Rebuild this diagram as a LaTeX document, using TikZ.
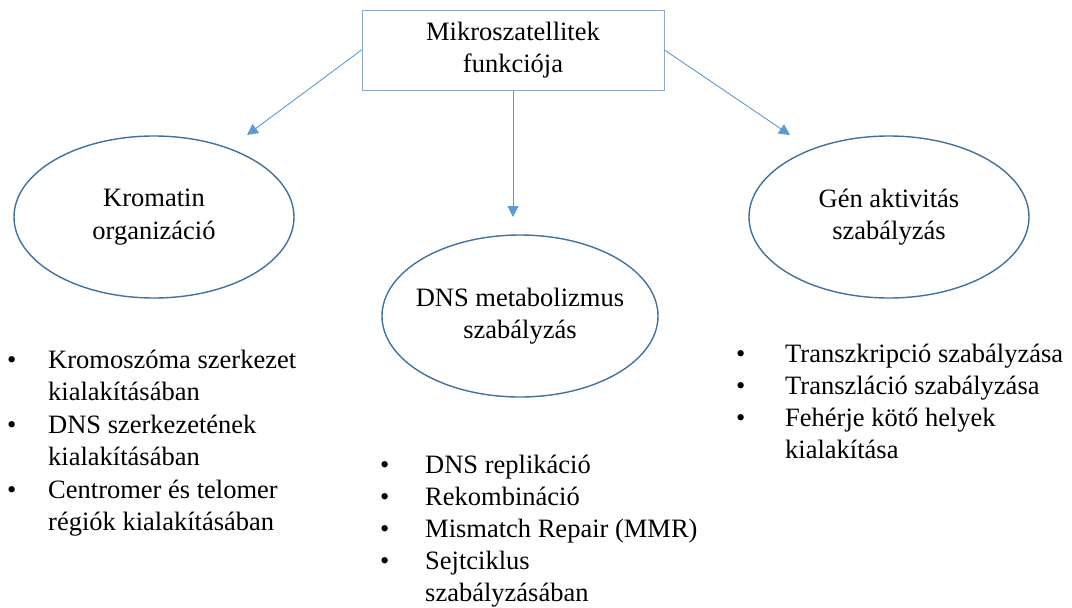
\documentclass[tikz,border=0pt]{standalone}
\usepackage{fontspec}
\setmainfont{Liberation Serif}
\usetikzlibrary{arrows.meta,shapes.geometric}
\definecolor{boxc}{RGB}{140,168,205}
\definecolor{ellc}{RGB}{65,113,156}
\definecolor{arrc}{RGB}{91,155,213}
\newcommand{\bfont}{\fontsize{26.5}{32.5}\selectfont}
\newcommand{\bul}{\textbullet}
\tikzset{
  txt/.style={font=\bfont, inner sep=0pt, align=center},
  topbox/.style={draw=boxc, line width=1pt, minimum width=302pt, minimum height=80pt, inner sep=0pt, align=center, font=\bfont},
  ell/.style={draw=ellc, line width=1.4pt, ellipse, inner sep=0pt, minimum width=280pt, minimum height=162pt},
  arr/.style={draw=arrc, line width=0.9pt, -{Triangle[length=11pt,width=11pt]}},
  lst/.style={anchor=base west, inner sep=0pt, align=left}
}
\begin{document}
\begin{tikzpicture}[x=1pt,y=-1pt]
\useasboundingbox (0,0) rectangle (1072,608);
\node[topbox] (top) at (513,50) {Mikroszatellitek\\funkciója};

\node[ell] (e1) at (154,217) {};
\node[ell, minimum width=276pt] (e2) at (520,316) {};
\node[ell] (e3) at (889,217) {};
\node[txt] (t1) at (e1) {Kromatin\\organizáció};
\node[txt] (t2) at (e2) {DNS metabolizmus\\szabályzás};
\node[txt] (t3) at (e3) {Gén aktivitás\\szabályzás};

\coordinate (a1) at (247,135);
\coordinate (a2) at (513,217);
\coordinate (a3) at (790,135);
\draw[arr] (top.west) -- (a1);
\draw[arr] (top.south) -- (a2);
\draw[arr] (top.east) -- (a3);

\node[lst] (l1) at (7,368) {\bfont\begin{tabular}[t]{@{}p{41pt}@{}l@{}}
\bul & Kromoszóma szerkezet\\
 & kialakításában\\
\bul & DNS szerkezetének\\
 & kialakításában\\
\bul & Centromer és telomer\\
 & régiók kialakításában
\end{tabular}};

\node[lst] (l2) at (380,473) {\fontsize{26.5}{32}\selectfont\begin{tabular}[t]{@{}p{45pt}@{}l@{}}
\bul & DNS replikáció\\
\bul & Rekombináció\\
\bul & Mismatch Repair (MMR)\\
\bul & Sejtciklus\\
 & szabályzásában
\end{tabular}};

\node[lst] (l3) at (736,362) {\fontsize{26.5}{32.3}\selectfont\begin{tabular}[t]{@{}p{49pt}@{}l@{}}
\bul & Transzkripció szabályzása\\
\bul & Transzláció szabályzása\\
\bul & Fehérje kötő helyek\\
 & kialakítása
\end{tabular}};
\end{tikzpicture}
\end{document}
